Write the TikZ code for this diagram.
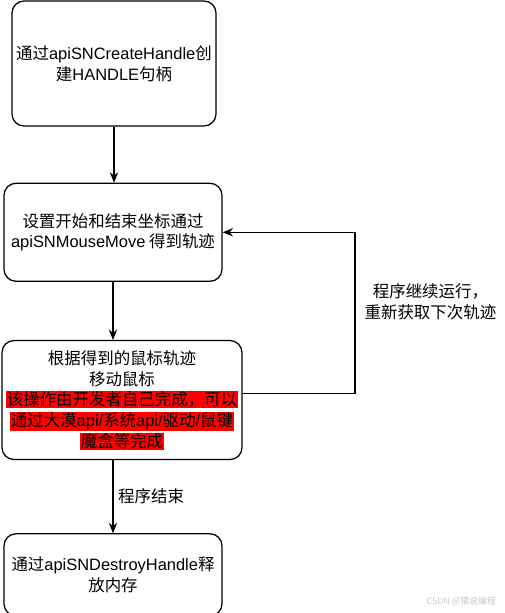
\documentclass[tikz,border=0pt]{standalone}
\usepackage{fontspec}
\setmainfont{Noto Sans CJK SC}
\newfontfamily\lsf{Liberation Sans}
\usetikzlibrary{arrows.meta,positioning}
\newcommand{\redline}[1]{{\setlength{\fboxsep}{0.6pt}\colorbox{red}{#1}}}

\begin{document}
\begin{tikzpicture}[
  stepbox/.style={draw=black,line width=0.9pt,fill=white,rounded corners=0.3cm,
                  align=center,inner sep=0pt,font=\fontsize{11.7}{14.8}\selectfont},
  lbl/.style={align=center,font=\fontsize{11.7}{14.8}\selectfont},
  arr/.style={-{Stealth[length=2.6mm,width=2.1mm]},line width=0.8pt}
]
\useasboundingbox (0,0) rectangle (12.6,-15.325);

\node[stepbox,minimum width=5.1cm,minimum height=3.125cm] (create) at (2.85,-1.5875)
  {通过{\lsf apiSNCreateHandle}创\\建{\lsf HANDLE}句柄};
\node[stepbox,minimum width=5.45cm,minimum height=2.45cm,below=1.4cm of create,xshift=-0.025cm] (setup)
  {设置开始和结束坐标通过\\{\lsf apiSNMouseMove} 得到轨迹};
\node[stepbox,minimum width=6.0cm,minimum height=2.975cm,below=1.45cm of setup,xshift=0.225cm] (move)
  {根据得到的鼠标轨迹\\移动鼠标\\
   \redline{该操作由开发者自己完成，可以}\\
   \redline{通过大漠{\lsf api/}系统{\lsf api/}驱动{\lsf /}鼠键}\\
   \redline{魔盒等完成}};
\node[stepbox,minimum width=5.45cm,minimum height=2.05cm,below=1.825cm of move,xshift=-0.225cm] (destroy)
  {通过{\lsf apiSNDestroyHandle}释\\放内存};

\coordinate (loopx) at (8.875,0);

\draw[arr] (create.south) -- (create.south |- setup.north);
\draw[arr] (setup.south) -- (setup.south |- move.north);
\draw[arr] (move.south -| destroy.north) -- node[lbl,right] (endlbl) {程序结束} (destroy.north);
\draw[arr] ([yshift=0.16cm]move.east) -- ([yshift=0.16cm]move.east -| loopx)
  -- node[lbl,right,pos=0.57,xshift=0.11cm] (againlbl) {程序继续运行，\\重新获取下次轨迹} (setup.east -| loopx)
  -- (setup.east);

% watermark
\node[font=\fontsize{6.3}{7}\selectfont,text=gray!45] (mark) at (11.53,-15.05) {CSDN @猿说编程};
\end{tikzpicture}
\end{document}
